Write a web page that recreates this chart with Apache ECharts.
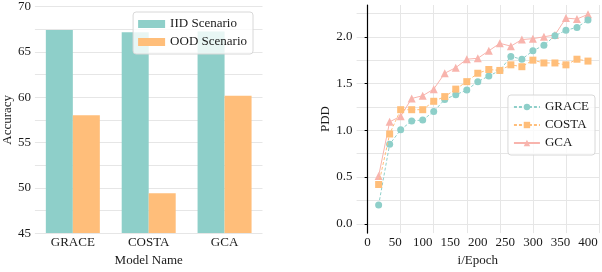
<!DOCTYPE html>
<html>
<head>
<meta charset="utf-8">
<script src="https://cdn.jsdelivr.net/npm/echarts@6/dist/echarts.min.js"></script>
<style>html,body{margin:0;padding:0;background:#fff;}#c{width:602px;height:272px;}</style>
</head>
<body>
<div id="c"></div>
<script>
// ---- Left chart data ----
const models = ['GRACE', 'COSTA', 'GCA'];
const iidAcc = [67.4, 67.15, 67.25];
const oodAcc = [58.0, 49.4, 60.15];

// ---- Right chart data ----
const epochs = [20, 40, 60, 80, 100, 120, 140, 160, 180, 200, 220, 240, 260, 280, 300, 320, 340, 360, 380, 400];
const gracePDD = [0.20, 0.85, 1.005, 1.10, 1.11, 1.20, 1.33, 1.38, 1.43, 1.52, 1.58, 1.64, 1.79, 1.76, 1.85, 1.91, 2.01, 2.07, 2.10, 2.18];
const costaPDD = [0.42, 0.96, 1.22, 1.22, 1.22, 1.31, 1.36, 1.44, 1.52, 1.61, 1.65, 1.64, 1.70, 1.68, 1.75, 1.72, 1.72, 1.70, 1.76, 1.74];
const gcaPDD = [0.51, 1.09, 1.15, 1.34, 1.37, 1.44, 1.61, 1.67, 1.76, 1.77, 1.85, 1.93, 1.90, 1.97, 1.98, 2.00, 2.02, 2.20, 2.19, 2.24];

const xLabelTicks = [0, 50, 100, 150, 200, 250, 300, 350, 400];
const xGridTicks = [0, 60, 120, 180, 240, 300, 360, 420];
const yLabelTicks = [0, 0.5, 1.0, 1.5, 2.0];
const yGridTicks = [0, 0.25, 0.5, 0.75, 1.0, 1.25, 1.5, 1.75, 2.0, 2.25];

const FONT = "'Liberation Serif', 'DejaVu Serif', serif";
const TXT = '#1a1a1a';
const GRID = '#e6e6e6';
const C1 = '#8ECFC9', C2 = '#FFBE7A', C3 = '#F8B4AD';

const chart = echarts.init(document.getElementById('c'), null, {renderer: 'canvas'});
const toPairs = (xs, ys) => xs.map((x, i) => [x, ys[i]]);
const txt = {fontFamily: FONT, fontSize: 13, color: TXT};

chart.setOption({
  animation: false,
  textStyle: {fontFamily: FONT, color: TXT},
  grid: [
    {left: 30, right: 339.5, top: 4.7, bottom: 28.7},
    {left: 356.6, right: 1.2, top: 5, bottom: 29}
  ],
  legend: [
    {
      data: ['IID Scenario', 'OOD Scenario'],
      orient: 'vertical', right: 349, top: 12,
      itemWidth: 27, itemHeight: 8, itemGap: 4, itemStyle: {borderWidth: 0},
      padding: [5, 6, 5, 5],
      backgroundColor: 'rgba(255,255,255,0.8)', borderColor: '#d8d8d8', borderWidth: 1, borderRadius: 3,
      textStyle: Object.assign({lineHeight: 14}, txt),
      icon: 'rect'
    },
    {
      data: ['GRACE', 'COSTA', 'GCA'],
      orient: 'vertical', right: 7, top: 95,
      itemWidth: 26, itemHeight: 8, itemGap: 4,
      padding: [5, 6, 5, 5],
      backgroundColor: 'rgba(255,255,255,0.8)', borderColor: '#d8d8d8', borderWidth: 1, borderRadius: 3,
      textStyle: Object.assign({lineHeight: 14}, txt)
    }
  ],
  xAxis: [
    {
      type: 'category', gridIndex: 0, data: models,
      axisLine: {show: false}, axisTick: {show: false},
      axisLabel: Object.assign({margin: 3}, txt),
      name: 'Model Name', nameLocation: 'middle', nameGap: 16, nameTextStyle: txt,
      splitLine: {show: false}
    },
    {
      type: 'value', gridIndex: 1, min: -20, max: 420,
      axisLine: {show: false},
      axisTick: {show: false, customValues: xLabelTicks},
      axisLabel: Object.assign({margin: 3, customValues: xLabelTicks}, txt),
      splitLine: {show: false},
      name: 'i/Epoch', nameLocation: 'middle', nameGap: 16, nameTextStyle: txt
    },
    {
      // grid-line carrier for the right panel
      type: 'value', gridIndex: 1, min: -20, max: 420, position: 'bottom',
      axisLine: {show: false},
      axisTick: {show: false, customValues: xGridTicks},
      axisLabel: {show: true, customValues: xGridTicks, formatter: () => ''},
      splitLine: {show: true, lineStyle: {color: GRID, width: 1}}
    }
  ],
  yAxis: [
    {
      type: 'value', gridIndex: 0, min: 45, max: 70, interval: 2.5,
      axisLine: {show: false}, axisTick: {show: false},
      axisLabel: Object.assign({margin: 4,
        formatter: v => (Math.abs(v % 5) < 1e-9 ? String(v) : '')}, txt),
      splitLine: {show: true, lineStyle: {color: GRID, width: 1}},
      name: 'Accuracy', nameLocation: 'middle', nameGap: 18, nameTextStyle: txt
    },
    {
      type: 'value', gridIndex: 1, min: -0.1, max: 2.34,
      axisLine: {show: true, lineStyle: {color: '#000', width: 1.2}},
      axisTick: {show: true, length: 3, customValues: yLabelTicks, lineStyle: {color: '#000'}},
      axisLabel: Object.assign({margin: 4, customValues: yLabelTicks,
        formatter: v => v.toFixed(1)}, txt),
      splitLine: {show: false},
      name: 'PDD', nameLocation: 'middle', nameGap: 20, nameTextStyle: txt
    },
    {
      type: 'value', gridIndex: 1, min: -0.1, max: 2.34, position: 'left',
      axisLine: {show: false},
      axisTick: {show: false, customValues: yGridTicks},
      axisLabel: {show: true, customValues: yGridTicks, formatter: () => ''},
      splitLine: {show: true, lineStyle: {color: GRID, width: 1}}
    }
  ],
  series: [
    {name: 'IID Scenario', type: 'bar', xAxisIndex: 0, yAxisIndex: 0, data: iidAcc,
      barWidth: 27, barGap: '0%', itemStyle: {color: C1}},
    {name: 'OOD Scenario', type: 'bar', xAxisIndex: 0, yAxisIndex: 0, data: oodAcc,
      barWidth: 27, barGap: '0%', itemStyle: {color: C2}},
    {name: 'GRACE', type: 'line', xAxisIndex: 1, yAxisIndex: 1, data: toPairs(epochs, gracePDD),
      symbol: 'circle', symbolSize: 7, itemStyle: {color: C1},
      lineStyle: {color: C1, width: 1, type: [3, 2]}, z: 3},
    {name: 'COSTA', type: 'line', xAxisIndex: 1, yAxisIndex: 1, data: toPairs(epochs, costaPDD),
      symbol: 'rect', symbolSize: 7, itemStyle: {color: C2},
      lineStyle: {color: C2, width: 1, type: [3, 2]}, z: 4},
    {name: 'GCA', type: 'line', xAxisIndex: 1, yAxisIndex: 1, data: toPairs(epochs, gcaPDD),
      symbol: 'triangle', symbolSize: 8, itemStyle: {color: C3},
      lineStyle: {color: C3, width: 1}, z: 2}
  ]
});
</script>
</body>
</html>
